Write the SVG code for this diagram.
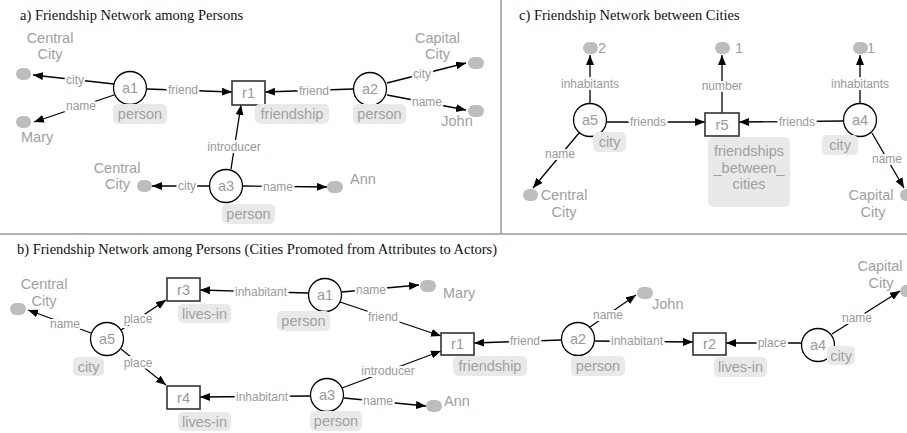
<svg xmlns="http://www.w3.org/2000/svg" width="907" height="433" viewBox="0 0 907 433">
<defs>
<marker id="ah" markerUnits="userSpaceOnUse" markerWidth="11" markerHeight="9" refX="10" refY="4" orient="auto">
<path d="M0,0 L10,4 L0,8 z" fill="#000"/>
</marker>
<style>
text{font-family:"Liberation Sans",Arial,sans-serif}
.title{font-family:"Liberation Serif","Times New Roman",serif;font-size:14.5px;fill:#111}
.e{stroke:#000;stroke-width:1.3;fill:none;marker-end:url(#ah)}
.el{font-size:12px;fill:#999;stroke:#fff;stroke-width:4px;paint-order:stroke;text-anchor:middle;dominant-baseline:central}
.act{fill:#fff;stroke:#000;stroke-width:1.3}
.rel{fill:#fff;stroke:#333;stroke-width:1.6}
.nl{font-size:14.5px;fill:#999;text-anchor:middle;dominant-baseline:central}
.pill{fill:#e9e9e9}
.pt{font-size:14.5px;fill:#a0a0a0;text-anchor:middle;dominant-baseline:central}
.dot{fill:#bdbdbd}
.at{font-size:14.5px;fill:#a0a0a0}
.c{text-anchor:middle}
.sep{stroke:#999;stroke-width:1.5}
</style>
</defs>

<line class="sep" x1="501" y1="0" x2="501" y2="234"/>
<line class="sep" x1="0" y1="234" x2="907" y2="234"/>

<text class="title" x="20" y="20">a) Friendship Network among Persons</text>
<text class="title" x="519" y="20">c) Friendship Network between Cities</text>
<text class="title" x="17" y="254">b) Friendship Network among Persons (Cities Promoted from Attributes to Actors)</text>

<g id="connectors">
<!-- panel a -->
<line class="e" x1="114" y1="84" x2="33" y2="75"/>
<line class="e" x1="114" y1="95" x2="34" y2="122"/>
<line class="e" x1="147" y1="89" x2="232" y2="92"/>
<line class="e" x1="353" y1="89" x2="265" y2="92"/>
<line class="e" x1="387" y1="83" x2="466" y2="63"/>
<line class="e" x1="387" y1="95" x2="466" y2="110"/>
<line class="e" x1="231" y1="169" x2="241" y2="105"/>
<line class="e" x1="209" y1="186" x2="152" y2="186"/>
<line class="e" x1="243" y1="186" x2="327" y2="187"/>
<!-- panel c -->
<line class="e" x1="590" y1="103" x2="590" y2="55"/>
<line class="e" x1="722" y1="113" x2="722" y2="55"/>
<line class="e" x1="860" y1="103" x2="860" y2="55"/>
<line class="e" x1="607" y1="122" x2="705" y2="122"/>
<line class="e" x1="843" y1="121" x2="739" y2="122"/>
<line class="e" x1="579" y1="133" x2="533" y2="188"/>
<line class="e" x1="872" y1="133" x2="904" y2="188"/>
<!-- panel b -->
<line class="e" x1="91" y1="333" x2="28" y2="310"/>
<line class="e" x1="121" y1="330" x2="166" y2="300"/>
<line class="e" x1="121" y1="349" x2="166" y2="385"/>
<line class="e" x1="308" y1="293" x2="200" y2="290"/>
<line class="e" x1="310" y1="396" x2="200" y2="397"/>
<line class="e" x1="342" y1="292" x2="419" y2="285"/>
<line class="e" x1="340" y1="302" x2="441" y2="336"/>
<line class="e" x1="342" y1="388" x2="441" y2="351"/>
<line class="e" x1="344" y1="398" x2="426" y2="406"/>
<line class="e" x1="561" y1="340" x2="474" y2="343"/>
<line class="e" x1="590" y1="327" x2="636" y2="295"/>
<line class="e" x1="595" y1="341" x2="693" y2="342"/>
<line class="e" x1="801" y1="343" x2="726" y2="343"/>
<line class="e" x1="832" y1="334" x2="900" y2="291"/>

<text class="el" x="75" y="80">city</text>
<text class="el" x="81" y="106">name</text>
<text class="el" x="183" y="90">friend</text>
<text class="el" x="314" y="91">friend</text>
<text class="el" x="422" y="74">city</text>
<text class="el" x="427" y="102">name</text>
<text class="el" x="234" y="147">introducer</text>
<text class="el" x="187" y="186">city</text>
<text class="el" x="278" y="187">name</text>

<text class="el" x="590" y="84">inhabitants</text>
<text class="el" x="722" y="86">number</text>
<text class="el" x="860" y="84">inhabitants</text>
<text class="el" x="648" y="122">friends</text>
<text class="el" x="797" y="122">friends</text>
<text class="el" x="560" y="154">name</text>
<text class="el" x="887" y="159">name</text>

<text class="el" x="65" y="324">name</text>
<text class="el" x="138" y="319">place</text>
<text class="el" x="138" y="363">place</text>
<text class="el" x="261" y="292">inhabitant</text>
<text class="el" x="262" y="397">inhabitant</text>
<text class="el" x="371" y="290">name</text>
<text class="el" x="383" y="317">friend</text>
<text class="el" x="388" y="371">introducer</text>
<text class="el" x="378" y="401">name</text>
<text class="el" x="525" y="341">friend</text>
<text class="el" x="608" y="315">name</text>
<text class="el" x="637" y="341">inhabitant</text>
<text class="el" x="772" y="343">place</text>
<text class="el" x="857" y="318">name</text>
</g>

<!-- panel a nodes -->
<g id="a_a1"><circle class="act" cx="130" cy="88" r="16.5"/><text class="nl" x="130" y="88">a1</text><rect class="pill" x="113" y="104" width="54" height="20" rx="5"/><text class="pt" x="140" y="114">person</text></g>
<g id="a_r1"><rect class="rel" x="232" y="81" width="33" height="24"/><text class="nl" x="248.5" y="93">r1</text><rect class="pill" x="255" y="104" width="74" height="20" rx="5"/><text class="pt" x="292" y="114">friendship</text></g>
<g id="a_a2"><circle class="act" cx="370" cy="89" r="16.5"/><text class="nl" x="370" y="89">a2</text><rect class="pill" x="353" y="104" width="53" height="20" rx="5"/><text class="pt" x="379.5" y="114">person</text></g>
<g id="a_a3"><circle class="act" cx="226" cy="186" r="16.5"/><text class="nl" x="226" y="186">a3</text><rect class="pill" x="222" y="204" width="53" height="20" rx="5"/><text class="pt" x="248.5" y="214">person</text></g>
<g id="a_cc1"><rect class="dot" x="16" y="68" width="15" height="12" rx="6"/><text class="at c" x="50" y="43">Central</text><text class="at c" x="50" y="59">City</text></g>
<g id="a_mary"><rect class="dot" x="16" y="116" width="15" height="12" rx="6"/><text class="at" x="21" y="142">Mary</text></g>
<g id="a_cap"><rect class="dot" x="468" y="57" width="16" height="12" rx="6"/><text class="at c" x="437.5" y="43">Capital</text><text class="at c" x="437.5" y="59">City</text></g>
<g id="a_john"><rect class="dot" x="468" y="105" width="16" height="12" rx="6"/><text class="at c" x="457" y="126">John</text></g>
<g id="a_cc3"><rect class="dot" x="137" y="180" width="15" height="12" rx="6"/><text class="at c" x="117" y="173">Central</text><text class="at c" x="117.5" y="189">City</text></g>
<g id="a_ann"><rect class="dot" x="327" y="181" width="16" height="12" rx="6"/><text class="at" x="350" y="184">Ann</text></g>

<!-- panel c nodes -->
<g id="c_a5"><circle class="act" cx="590" cy="120" r="16.5"/><text class="nl" x="590" y="120">a5</text><rect class="pill" x="593" y="132" width="33" height="20" rx="5"/><text class="pt" x="609.5" y="142">city</text></g>
<g id="c_r5"><rect class="rel" x="705" y="113" width="34" height="23"/><text class="nl" x="722" y="124.5">r5</text><rect class="pill" x="708" y="137" width="82" height="70" rx="6"/><text class="at c" x="749" y="156">friendships</text><text class="at c" x="749" y="173">_between_</text><text class="at c" x="749" y="189">cities</text></g>
<g id="c_a4"><circle class="act" cx="860" cy="120" r="16.5"/><text class="nl" x="860" y="120">a4</text><rect class="pill" x="822" y="135" width="36" height="20" rx="5"/><text class="pt" x="840" y="145">city</text></g>
<g id="c_inh5"><rect class="dot" x="583" y="42" width="15" height="12" rx="6"/><text class="at" x="598" y="53">2</text></g>
<g id="c_num"><rect class="dot" x="715" y="42" width="15" height="12" rx="6"/><text class="at" x="735" y="53">1</text></g>
<g id="c_inh4"><rect class="dot" x="853" y="42" width="15" height="12" rx="6"/><text class="at" x="867" y="53">1</text></g>
<g id="c_cc"><rect class="dot" x="523" y="189" width="15" height="12" rx="6"/><text class="at c" x="564" y="200">Central</text><text class="at c" x="564" y="217">City</text></g>
<g id="c_cap"><rect class="dot" x="900" y="189" width="15" height="12" rx="6"/><text class="at c" x="871" y="200">Capital</text><text class="at c" x="873" y="217">City</text></g>

<!-- panel b nodes -->
<g id="b_a5"><circle class="act" cx="107" cy="339" r="16.5"/><text class="nl" x="107" y="339">a5</text><rect class="pill" x="73" y="357" width="31" height="19" rx="5"/><text class="pt" x="88.5" y="366.5">city</text></g>
<g id="b_r3"><rect class="rel" x="167" y="278" width="33" height="23"/><text class="nl" x="183.5" y="289.5">r3</text><rect class="pill" x="178" y="304" width="53" height="19" rx="5"/><text class="pt" x="204.5" y="313.5">lives-in</text></g>
<g id="b_r4"><rect class="rel" x="167" y="386" width="33" height="23"/><text class="nl" x="183.5" y="397.5">r4</text><rect class="pill" x="178" y="412" width="53" height="19" rx="5"/><text class="pt" x="204.5" y="421.5">lives-in</text></g>
<g id="b_a1"><circle class="act" cx="325" cy="295" r="16.5"/><text class="nl" x="325" y="295">a1</text><rect class="pill" x="277" y="311" width="53" height="20" rx="5"/><text class="pt" x="303.5" y="321">person</text></g>
<g id="b_r1"><rect class="rel" x="441" y="333" width="33" height="22"/><text class="nl" x="457.5" y="344">r1</text><rect class="pill" x="453" y="356" width="74" height="20" rx="5"/><text class="pt" x="490" y="366">friendship</text></g>
<g id="b_a3"><circle class="act" cx="327" cy="395" r="16.5"/><text class="nl" x="327" y="395">a3</text><rect class="pill" x="310" y="411" width="52" height="20" rx="5"/><text class="pt" x="336" y="421">person</text></g>
<g id="b_a2"><circle class="act" cx="578" cy="339" r="16.5"/><text class="nl" x="578" y="339">a2</text><rect class="pill" x="571" y="356" width="54" height="20" rx="5"/><text class="pt" x="598" y="366">person</text></g>
<g id="b_r2"><rect class="rel" x="693" y="333" width="33" height="22"/><text class="nl" x="709.5" y="344">r2</text><rect class="pill" x="714" y="357" width="53" height="20" rx="5"/><text class="pt" x="740.5" y="367">lives-in</text></g>
<g id="b_a4"><circle class="act" cx="818" cy="345" r="16.5"/><text class="nl" x="818" y="345">a4</text><rect class="pill" x="827" y="346" width="28" height="19" rx="5"/><text class="pt" x="841" y="355.5">city</text></g>
<g id="b_cc"><rect class="dot" x="10" y="303" width="16" height="12" rx="6"/><text class="at c" x="44" y="289">Central</text><text class="at c" x="44" y="306">City</text></g>
<g id="b_mary"><rect class="dot" x="420" y="280" width="16" height="12" rx="6"/><text class="at" x="443" y="298">Mary</text></g>
<g id="b_ann"><rect class="dot" x="426" y="400" width="16" height="12" rx="6"/><text class="at" x="444" y="406">Ann</text></g>
<g id="b_john"><rect class="dot" x="637" y="287" width="16" height="12" rx="6"/><text class="at" x="652" y="309">John</text></g>
<g id="b_cap"><rect class="dot" x="900" y="285" width="16" height="12" rx="6"/><text class="at c" x="880" y="271">Capital</text><text class="at c" x="881" y="288">City</text></g>
</svg>
